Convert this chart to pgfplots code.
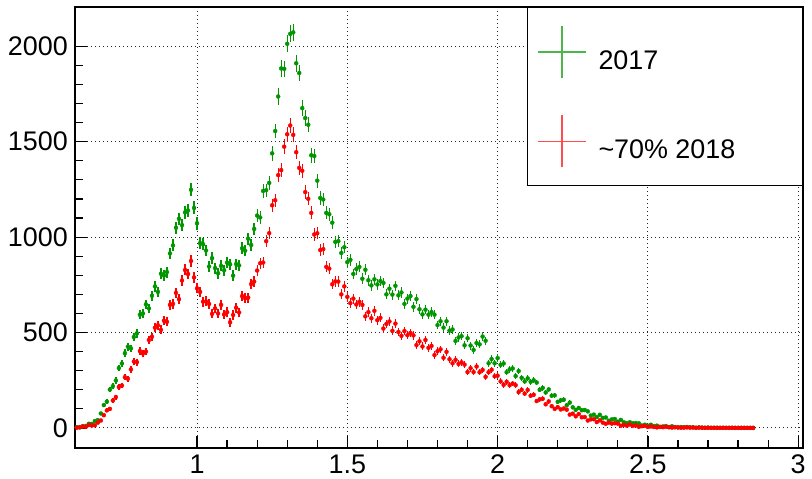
\documentclass[border=0pt]{standalone}
\usepackage{pgfplots}
\pgfplotsset{compat=1.18}
\usepackage{pgfplotstable}
\usepackage{fontspec}
\setmainfont{Liberation Sans}
\definecolor{rgreen}{RGB}{0,150,0}
\definecolor{rred}{RGB}{255,0,0}

\pgfplotstableread{
x g ge r re
0.60 4 2 1 1
0.61 3 2 4 2
0.62 9 3 8 3
0.63 10 3 6 2
0.64 22 5 15 4
0.65 21 5 13 4
0.66 36 6 14 4
0.67 41 6 28 5
0.68 76 9 39 6
0.69 120 11 67 8
0.70 138 12 92 10
0.71 201 14 100 10
0.72 219 15 144 12
0.73 249 16 162 13
0.74 314 18 215 15
0.75 338 18 222 15
0.76 392 20 266 16
0.77 426 21 258 16
0.78 417 20 307 18
0.79 477 22 348 19
0.80 496 22 345 19
0.81 593 24 403 20
0.82 600 24 390 20
0.83 648 25 400 20
0.84 627 25 461 21
0.85 693 26 478 22
0.86 742 27 525 23
0.87 713 27 538 23
0.88 808 28 514 23
0.89 799 28 562 24
0.90 817 29 556 24
0.91 915 30 645 25
0.92 957 31 650 25
0.93 1049 32 708 27
0.94 1096 33 675 26
0.95 1063 33 773 28
0.96 1130 34 828 29
0.97 1140 34 807 28
0.98 1248 35 875 30
0.99 1153 34 789 28
1.00 1073 33 732 27
1.01 969 31 713 27
1.02 963 31 662 26
1.03 930 30 663 26
1.04 846 29 650 25
1.05 890 30 598 24
1.06 838 29 627 25
1.07 811 28 600 24
1.08 849 29 645 25
1.09 827 29 595 24
1.10 866 29 607 25
1.11 858 29 554 24
1.12 798 28 592 24
1.13 859 29 630 25
1.14 852 29 605 25
1.15 942 31 691 26
1.16 929 30 680 26
1.17 992 31 683 26
1.18 959 31 754 27
1.19 1043 32 767 28
1.20 1113 33 825 29
1.21 1103 33 863 29
1.22 1242 35 867 29
1.23 1246 35 979 31
1.24 1284 36 1021 32
1.25 1439 38 1167 34
1.26 1556 39 1193 35
1.27 1737 42 1325 36
1.28 1884 43 1351 37
1.29 1882 43 1474 38
1.30 2013 45 1539 39
1.31 2065 45 1585 40
1.32 2073 46 1536 39
1.33 1911 44 1445 38
1.34 1860 43 1363 37
1.35 1676 41 1348 37
1.36 1624 40 1236 35
1.37 1589 40 1201 35
1.38 1429 38 1127 34
1.39 1425 38 1014 32
1.40 1296 36 1020 32
1.41 1205 35 932 31
1.42 1197 35 937 31
1.43 1127 34 844 29
1.44 1120 33 835 29
1.45 1076 33 753 27
1.46 975 31 768 28
1.47 979 31 767 28
1.48 917 30 700 26
1.49 947 31 742 27
1.50 869 29 687 26
1.51 881 30 654 26
1.52 807 28 678 26
1.53 833 29 647 25
1.54 844 29 661 26
1.55 782 28 645 25
1.56 829 29 585 24
1.57 774 28 607 25
1.58 747 27 575 24
1.59 779 28 614 25
1.60 752 27 565 24
1.61 770 28 577 24
1.62 760 28 521 23
1.63 700 26 545 23
1.64 730 27 558 24
1.65 699 26 509 23
1.66 745 27 547 23
1.67 695 26 503 22
1.68 710 27 483 22
1.69 650 25 508 23
1.70 678 26 486 22
1.71 691 26 498 22
1.72 635 25 485 22
1.73 675 26 434 21
1.74 622 25 454 21
1.75 595 24 427 21
1.76 620 25 461 21
1.77 594 24 420 20
1.78 607 25 430 21
1.79 594 24 382 20
1.80 539 23 402 20
1.81 559 24 412 20
1.82 526 23 368 19
1.83 559 24 399 20
1.84 510 23 360 19
1.85 516 23 339 18
1.86 456 21 357 19
1.87 474 22 336 18
1.88 481 22 344 19
1.89 433 21 332 18
1.90 470 22 293 17
1.91 432 21 313 18
1.92 409 20 293 17
1.93 445 21 322 18
1.94 438 21 292 17
1.95 479 22 304 17
1.96 457 21 268 16
1.97 339 18 292 17
1.98 361 19 305 17
1.99 339 18 271 16
2.00 366 19 274 17
2.01 331 18 244 16
2.02 338 18 226 15
2.03 292 17 242 16
2.04 307 18 224 15
2.05 312 18 233 15
2.06 272 16 224 15
2.07 298 17 188 14
2.08 263 16 200 14
2.09 244 16 180 13
2.10 260 16 199 14
2.11 242 16 169 13
2.12 250 16 174 13
2.13 238 15 141 12
2.14 200 14 150 12
2.15 210 14 153 12
2.16 186 14 124 11
2.17 202 14 139 12
2.18 169 13 114 11
2.19 171 13 100 10
2.20 137 12 109 10
2.21 145 12 97 10
2.22 148 12 102 10
2.23 119 11 96 10
2.24 133 12 70 8
2.25 108 10 75 9
2.26 95 10 61 8
2.27 105 10 73 9
2.28 93 10 56 7
2.29 94 10 57 8
2.30 87 9 39 6
2.31 65 8 45 7
2.32 70 8 46 7
2.33 57 8 31 6
2.34 69 8 40 6
2.35 53 7 28 5
2.36 55 7 22 5
2.37 38 6 28 5
2.38 45 7 23 5
2.39 47 7 25 5
2.40 33 6 23 5
2.41 42 6 12 3
2.42 30 5 16 4
2.43 25 5 12 3
2.44 30 5 18 4
2.45 25 5 11 3
2.46 26 5 13 4
2.47 24 5 6 2
2.48 13 4 9 3
2.49 17 4 11 3
2.50 12 3 5 2
2.51 17 4 8 3
2.52 10 3 5 2
2.53 12 3 3 2
2.54 5 2 6 2
2.55 8 3 4 2
2.56 10 3 6 2
2.57 4 2 4 2
2.58 9 3 2 1
2.59 4 2 4 2
2.60 3 2 3 2
2.61 5 2 1 1
2.62 4 2 2 1
2.63 5 2 3 2
2.64 3 2 2 1
2.65 4 2 2 1
2.66 1 1 1 1
2.67 3 2 2 1
2.68 2 1 1 1
2.69 1 1 1 1
2.70 2 1 1 1
2.71 1 1 0.5 0.5
2.72 1 1 1 1
2.73 1 1 0.5 0.5
2.74 0.5 0.5 0.5 0.5
2.75 1 1 0.5 0.5
2.76 0.5 0.5 0.5 0.5
2.77 0.5 0.5 0.5 0.5
2.78 1 1 0.5 0.5
2.79 0.5 0.5 0.5 0.5
2.80 0.5 0.5 0.5 0.5
2.81 0.5 0.5 0.5 0.5
2.82 0.5 0.5 0.5 0.5
2.83 0.5 0.5 0.5 0.5
2.84 0.5 0.5 0.5 0.5
2.85 0.5 0.5 0.5 0.5
}\datatab

\begin{document}
\fontsize{27}{32}\selectfont
\begin{tikzpicture}
\useasboundingbox (-75bp,-31bp) rectangle (737bp,448bp);
\begin{axis}[
  scale only axis, width=728bp, height=441bp,
  at={(0,0)}, anchor=south west,
  xmin=0.594, xmax=3.016, ymin=-105, ymax=2206,
  xtick={1,1.5,2,2.5,3}, minor x tick num=4,
  ytick={0,500,1000,1500,2000}, minor y tick num=4,
  tick align=inside, tick pos=left,
  major tick length=12bp, minor tick length=8bp,
  grid=major, major grid style={black!85, line width=1bp, dash pattern=on 1.3bp off 2.7bp},
  axis line style={black, line width=1.5bp},
  tick style={black, line width=1.2bp},
  scaled ticks=false,
  /pgf/number format/assume math mode=true,
  /pgf/number format/1000 sep={},
  ticklabel style={font=\fontsize{27}{32}\selectfont},
  yticklabel style={xshift=2bp},
  xticklabel style={yshift=2bp, text depth=0pt},
  legend style={at={(1,1)}, anchor=north east, draw=black, line width=1bp,
    fill=white, inner xsep=10bp, inner ysep=18bp, row sep=36bp,
    nodes={inner sep=0pt}, font=\fontsize{27}{32}\selectfont},
  legend cell align=left,
]
\addplot[rgreen, only marks, mark=none,
  legend image code/.code={
    \draw[rgreen!70!white, line width=1.2bp] (0bp,10bp)--(48bp,10bp);
    \draw[rgreen!70!white, line width=1.2bp] (24bp,-16bp)--(24bp,36bp);},
  error bars/.cd, x dir=both, x fixed=0.005, y dir=both, y explicit,
  error bar style={draw=rgreen, line width=1.3bp}, error mark=none]
  table[x=x, y=g, y error=ge]{\datatab};
\addlegendentry{\makebox[206bp][l]{\hspace{12bp}2017}}
\addplot[rred, only marks, mark=none,
  legend image code/.code={
    \draw[rred!70!white, line width=1.2bp] (0bp,10bp)--(48bp,10bp);
    \draw[rred!70!white, line width=1.2bp] (24bp,-16bp)--(24bp,36bp);},
  error bars/.cd, x dir=both, x fixed=0.005, y dir=both, y explicit,
  error bar style={draw=rred, line width=1.3bp}, error mark=none]
  table[x=x, y=r, y error=re]{\datatab};
\addlegendentry{\makebox[206bp][l]{\hspace{12bp}\textasciitilde 70\% 2018}}
\end{axis}
\end{tikzpicture}
\end{document}
